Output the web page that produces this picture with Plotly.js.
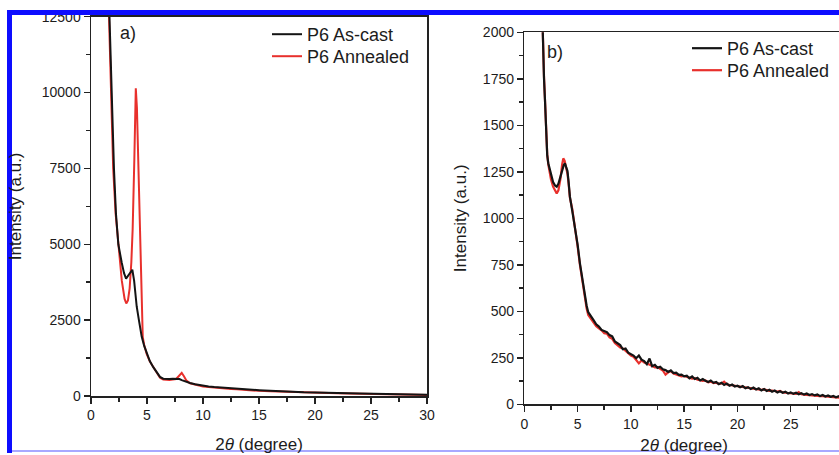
<!DOCTYPE html>
<html>
<head>
<meta charset="utf-8">
<script src="https://cdn.plot.ly/plotly-3.0.1.min.js"></script>
<style>
html, body { margin: 0; padding: 0; overflow: hidden; background: #fff; }
#chart { width: 845px; height: 455px; }
</style>
</head>
<body>
<div id="chart"></div>
<script>
// ---------- Panel a) ----------
const aCastX = [1.45, 1.63, 1.85, 2.05, 2.23, 2.44, 2.74, 2.95, 3.13, 3.3, 3.5, 3.69, 3.85, 4.08, 4.3, 4.53, 4.75, 4.97, 5.25, 5.56, 5.85, 6.16, 6.45, 6.76, 7.0, 7.3, 7.65, 7.9, 8.1, 8.4, 8.84, 9.3, 9.73, 10, 10.5, 11, 11.5, 12, 12.5, 13, 13.5, 14, 14.5, 15, 16, 17, 18, 19, 20, 21, 22, 23, 24, 25, 26, 27, 28, 29, 30];
const aCastY = [15000, 12500, 10000, 7500, 6000, 5000, 4400, 4050, 3870, 3950, 4080, 4160, 3800, 2950, 2450, 1950, 1650, 1400, 1150, 950, 780, 630, 570, 555, 560, 565, 575, 560, 525, 480, 430, 390, 355, 335, 315, 295, 280, 265, 255, 245, 232, 215, 205, 192, 172, 152, 138, 125, 118, 100, 98, 88, 82, 72, 66, 58, 52, 45, 40];

const aAnnX = [1.42, 1.6, 1.78, 1.98, 2.2, 2.45, 2.75, 3.0, 3.15, 3.3, 3.45, 3.6, 3.72, 3.87, 4.0, 4.1, 4.22, 4.32, 4.42, 4.52, 4.62, 4.75, 4.97, 5.25, 5.56, 5.85, 6.16, 6.45, 6.76, 7.0, 7.3, 7.6, 7.85, 8.1, 8.3, 8.5, 8.84, 9.3, 9.73, 10, 10.5, 11, 11.5, 12, 12.5, 13, 13.5, 14, 14.5, 15, 16, 17, 18, 19, 20, 21, 22, 23, 24, 25, 26, 27, 28, 29, 30];
const aAnnY = [15000, 12500, 10000, 7500, 6000, 4900, 3800, 3200, 3050, 3150, 3550, 4400, 5500, 7800, 10140, 9500, 7800, 6000, 4200, 2800, 1950, 1680, 1390, 1140, 940, 760, 600, 540, 520, 525, 540, 560, 660, 760, 650, 520, 420, 375, 340, 315, 295, 275, 258, 240, 230, 220, 205, 190, 180, 170, 155, 140, 128, 115, 105, 95, 88, 80, 72, 65, 58, 52, 46, 40, 35];

// ---------- Panel b) ----------
const bCastX = [1.55, 1.63, 1.72, 1.85, 1.94, 2.05, 2.15, 2.25, 2.35, 2.5, 2.7, 2.9, 3.04, 3.2, 3.4, 3.55, 3.7, 3.81, 3.92, 4.05, 4.15, 4.28, 4.5, 4.75, 5.0, 5.22, 5.45, 5.69, 5.85,
  6.0, 6.25, 6.5, 6.75, 7.0, 7.25, 7.5, 7.75, 8.0, 8.25, 8.5, 8.75, 9.0, 9.25, 9.5, 9.75, 10.0, 10.25, 10.5, 10.75, 11.0, 11.25, 11.5, 11.75, 12.0, 12.25, 12.5, 12.75, 13.0, 13.25, 13.5, 13.75, 14.0, 14.25, 14.5, 14.75, 15.0, 15.25, 15.5, 15.75, 16.0, 16.25, 16.5, 16.75, 17.0, 17.25, 17.5, 17.75, 18.0, 18.25, 18.5, 18.75, 19.0, 19.25, 19.5, 19.75, 20.0, 20.25, 20.5, 20.75, 21.0, 21.25, 21.5, 21.75, 22.0, 22.25, 22.5, 22.75, 23.0, 23.25, 23.5, 23.75, 24.0, 24.25, 24.5, 24.75, 25.0, 25.25, 25.5, 25.75, 26.0, 26.25, 26.5, 26.75, 27.0, 27.25, 27.5, 27.75, 28.0, 28.25, 28.5, 28.75, 29.0, 29.25, 29.5, 29.75, 30.0];
const bCastY = [2400, 2200, 2000, 1750, 1636, 1450, 1340, 1296, 1270, 1230, 1195, 1175, 1170, 1185, 1225, 1260, 1285, 1296, 1270, 1255, 1200, 1116, 1040, 955, 860, 758, 670, 578, 530,
  495, 470, 452, 430, 418, 400, 392, 388, 372, 365, 338, 330, 318, 296, 300, 278, 272, 262, 248, 262, 240, 232, 215, 246, 205, 212, 196, 202, 188, 184, 174, 182, 168, 170, 158, 160, 150, 154, 140, 150, 136, 142, 128, 136, 126, 120, 128, 116, 120, 108, 116, 104, 112, 100, 106, 96, 100, 92, 98, 86, 92, 82, 90, 80, 86, 74, 82, 72, 78, 68, 74, 64, 70, 62, 68, 58, 64, 56, 62, 54, 60, 52, 58, 50, 55, 48, 53, 44, 50, 42, 47, 40, 45, 38, 43, 36, 40];

const bAnnX = [1.55, 1.63, 1.72, 1.85, 1.94, 2.05, 2.15, 2.25, 2.35, 2.5, 2.7, 2.9, 3.04, 3.2, 3.4, 3.55, 3.66, 3.78, 3.9, 4.05, 4.15, 4.28, 4.5, 4.75, 5.0, 5.22, 5.45, 5.69, 5.85,
  6.0, 6.25, 6.5, 6.75, 7.0, 7.25, 7.5, 7.75, 8.0, 8.25, 8.5, 8.75, 9.0, 9.25, 9.5, 9.75, 10.0, 10.25, 10.5, 10.75, 11.0, 11.25, 11.5, 11.75, 12.0, 12.25, 12.5, 12.75, 13.0, 13.25, 13.5, 13.75, 14.0, 14.25, 14.5, 14.75, 15.0, 15.25, 15.5, 15.75, 16.0, 16.25, 16.5, 16.75, 17.0, 17.25, 17.5, 17.75, 18.0, 18.25, 18.5, 18.75, 19.0, 19.25, 19.5, 19.75, 20.0, 20.25, 20.5, 20.75, 21.0, 21.25, 21.5, 21.75, 22.0, 22.25, 22.5, 22.75, 23.0, 23.25, 23.5, 23.75, 24.0, 24.25, 24.5, 24.75, 25.0, 25.25, 25.5, 25.75, 26.0, 26.25, 26.5, 26.75, 27.0, 27.25, 27.5, 27.75, 28.0, 28.25, 28.5, 28.75, 29.0, 29.25, 29.5, 29.75, 30.0];
const bAnnY = [2400, 2200, 2000, 1760, 1640, 1460, 1345, 1290, 1255, 1210, 1170, 1145, 1134, 1150, 1215, 1290, 1322, 1310, 1280, 1240, 1190, 1110, 1050, 960, 850, 750, 660, 565, 515,
  480, 458, 440, 420, 408, 398, 382, 380, 360, 352, 330, 318, 305, 300, 285, 275, 262, 255, 238, 220, 236, 225, 220, 212, 208, 198, 200, 192, 182, 160, 172, 178, 165, 160, 155, 150, 152, 146, 142, 138, 140, 132, 130, 126, 128, 118, 122, 114, 116, 110, 112, 122, 106, 104, 102, 98, 96, 94, 92, 90, 88, 86, 84, 82, 80, 78, 80, 74, 72, 74, 70, 68, 72, 64, 62, 60, 60, 58, 56, 66, 54, 52, 50, 50, 48, 46, 46, 44, 44, 42, 40, 40, 38, 38, 36, 36, 34];

const seriesNames = ['P6 As-cast', 'P6 Annealed'];
const panelLabels = ['a)', 'b)'];
const xTitle = '2<i>θ</i> (degree)';
const yTitle = 'Intensity (a.u.)';

const W = 845, H = 455;
const BLACK = '#141414', RED = '#e8302c';
const FONT = 'Arial, "Liberation Sans", sans-serif';
const TXT = '#1c1c1c';

const traces = [
  {x: aAnnX, y: aAnnY, xaxis: 'x', yaxis: 'y', name: seriesNames[1], legend: 'legend2', mode: 'lines', line: {color: RED, width: 2}},
  {x: aCastX, y: aCastY, xaxis: 'x', yaxis: 'y', name: seriesNames[0], legend: 'legend', mode: 'lines', line: {color: BLACK, width: 2}},
  {x: bAnnX, y: bAnnY, xaxis: 'x2', yaxis: 'y2', name: seriesNames[1], legend: 'legend4', mode: 'lines', line: {color: RED, width: 2.2}},
  {x: bCastX, y: bCastY, xaxis: 'x2', yaxis: 'y2', name: seriesNames[0], legend: 'legend3', mode: 'lines', line: {color: BLACK, width: 2.2}}
];

function xAx(dom, anchor, standoff) {
  return {
    domain: dom, anchor: anchor, range: [0, 30], dtick: 5, tick0: 0, tickformat: 'd',
    ticks: 'outside', ticklen: 6, tickwidth: 1.5, tickcolor: '#222',
    minor: {dtick: 2.5, ticks: 'outside', ticklen: 4, tickwidth: 1.5, tickcolor: '#222'},
    showline: true, linewidth: 1.5, linecolor: '#222', mirror: true,
    showgrid: false, zeroline: false, fixedrange: true,
    tickfont: {family: FONT, size: 14, color: TXT},
    title: {text: xTitle, font: {family: FONT, size: 17, color: TXT}, standoff: standoff}
  };
}
function yAx(dom, anchor, maxv, dt, standoff) {
  return {
    domain: dom, anchor: anchor, range: [0, maxv], dtick: dt, tick0: 0, tickformat: 'd',
    ticks: 'outside', ticklen: 6, tickwidth: 1.5, tickcolor: '#222',
    minor: {dtick: dt / 2, ticks: 'outside', ticklen: 4, tickwidth: 1.5, tickcolor: '#222'},
    showline: true, linewidth: 1.5, linecolor: '#222', mirror: true,
    showgrid: false, zeroline: false, fixedrange: true,
    tickfont: {family: FONT, size: 14, color: TXT},
    title: {text: yTitle, font: {family: FONT, size: 17, color: TXT}, standoff: standoff}
  };
}

function leg(xpx, toppx) {
  return {x: xpx / W, y: 1 - toppx / H, xanchor: 'left', yanchor: 'top',
          bgcolor: 'rgba(0,0,0,0)', borderwidth: 0, font: {family: FONT, size: 18, color: TXT}};
}

const layout = {
  width: W, height: H,
  margin: {l: 0, r: 0, t: 0, b: 0},
  paper_bgcolor: '#fff', plot_bgcolor: '#fff',
  showlegend: true,
  font: {family: FONT, color: TXT},
  xaxis: xAx([91 / W, 427 / W], 'y', 16),
  yaxis: yAx([1 - 396 / H, 1 - 16.7 / H], 'x', 12500, 2500, 16),
  xaxis2: xAx([524.3 / W, 844 / W], 'y2', 22),
  yaxis2: yAx([1 - 404.3 / H, 1 - 32.3 / H], 'x2', 2000, 250, 12),
  legend: leg(267, 16),
  legend2: leg(267, 38),
  legend3: leg(687, 30),
  legend4: leg(687, 52),
  annotations: [
    {text: panelLabels[0], xref: 'paper', yref: 'paper', x: 118 / W, y: 1 - 33 / H, xanchor: 'left', yanchor: 'middle', showarrow: false, font: {family: FONT, size: 18, color: TXT}},
    {text: panelLabels[1], xref: 'paper', yref: 'paper', x: 545 / W, y: 1 - 52 / H, xanchor: 'left', yanchor: 'middle', showarrow: false, font: {family: FONT, size: 18, color: TXT}}
  ],
  shapes: [
    {type: 'rect', xref: 'paper', yref: 'paper', x0: 7 / W, x1: 1.01, y0: 1 - 15 / H, y1: 1 - 10 / H, fillcolor: '#0d0dff', line: {width: 0}, layer: 'above'},
    {type: 'rect', xref: 'paper', yref: 'paper', x0: 7 / W, x1: 12 / W, y0: 1 - 453 / H, y1: 1 - 10 / H, fillcolor: '#0d0dff', line: {width: 0}, layer: 'above'},
    {type: 'rect', xref: 'paper', yref: 'paper', x0: 12 / W, x1: 1.01, y0: 1 - 452 / H, y1: 1 - 450 / H, fillcolor: '#a8a8ff', line: {width: 0}, layer: 'above'}
  ]
};

Plotly.newPlot('chart', traces, layout, {staticPlot: true, displayModeBar: false});
</script>
</body>
</html>
